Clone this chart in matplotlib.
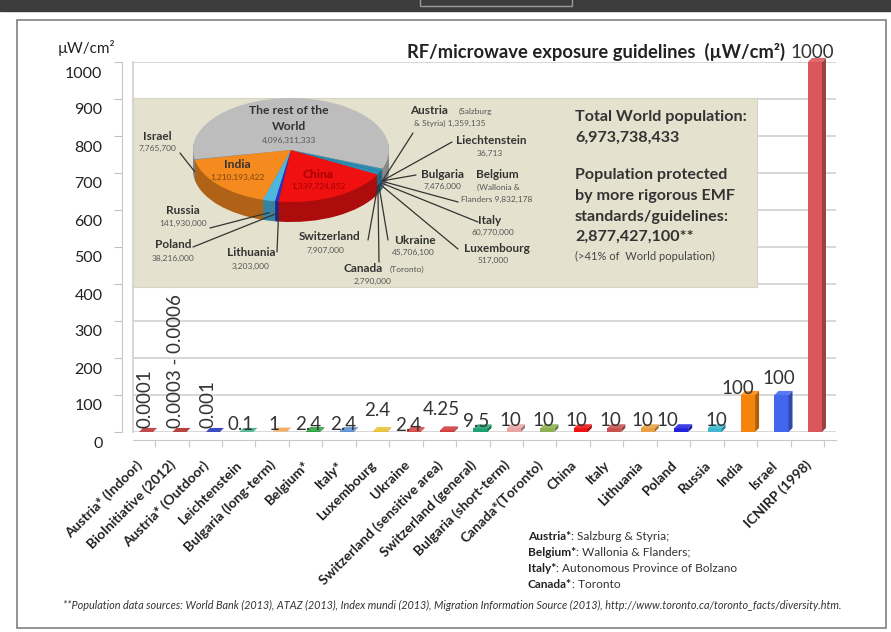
import matplotlib
matplotlib.use("Agg")
import matplotlib.pyplot as plt
import matplotlib.colors as mcolors
from matplotlib.patches import Rectangle
from matplotlib.transforms import ScaledTranslation
import numpy as np

plt.rcParams['font.family'] = ['Lato', 'DejaVu Sans']

# ---- bar chart data ----
categories = ["Austria* (Indoor)", "BioInitiative (2012)", "Austria* (Outdoor)", "Leichtenstein",
              "Bulgaria (long-term)", "Belgium*", "Italy*", "Luxembourg", "Ukraine",
              "Switzerland (sensitive area)", "Switzerland (general)", "Bulgaria (short-term)",
              "Canada*(Toronto)", "China", "Italy", "Lithuania", "Poland", "Russia", "India",
              "Israel", "ICNIRP (1998)"]
values = [0.0001, 0.0006, 0.001, 0.1, 1, 2.4, 2.4, 2.4, 2.4, 4.25, 9.5,
          10, 10, 10, 10, 10, 10, 10, 100, 100, 1000]
value_labels = ["0.0001", "0.0003 - 0.0006", "0.001", "0.1", "1", "2.4", "2.4", "2.4", "2.4",
                "4.25", "9.5", "10", "10", "10", "10", "10", "10", "10", "100", "100", "1000"]
bar_colors = ["#b83232", "#b02828", "#2233bb", "#3cb08a", "#f0a456", "#2e9e3e", "#5b8fd6",
              "#e8c030", "#d84444", "#d03a3a", "#1fa070", "#e8a4a4", "#8fb050", "#ee1111",
              "#c85050", "#e8a040", "#2222dd", "#40b8d0", "#f5840c", "#4466ee", "#d9575a"]

# ---- pie (population) data ----
pie_names = ["The rest of the World", "Israel", "India", "Russia", "Poland", "Lithuania", "China",
             "Switzerland", "Canada", "Ukraine", "Luxembourg", "Italy", "Belgium", "Bulgaria",
             "Liechtenstein", "Austria"]
pie_pops = [4096311333, 7765700, 1210193422, 141930000, 38216000, 3203000, 1339724852,
            7907000, 2790000, 45706100, 517000, 60770000, 9832178, 7476000, 36713, 1359135]
pie_colors = ["#bdbdbd", "#3aa0c8", "#f58a1f", "#4db6dc", "#3030c0", "#8040a0", "#f01010",
              "#40a8c8", "#40a8c8", "#3090b8", "#40a8c8", "#2a8ab0", "#40a8c8", "#3090b8",
              "#40a8c8", "#40a8c8"]

# layout tweaks for value labels (pixels)
label_lift = [4, 4, 4, 7, 7, 7, 7, 21, 6, 21, 7, 8, 8, 8, 8, 8, 8, 8, 7, 17, 10]
label_dx = [-1, -4, -5, -6, -6, -5, -4, -3, -5, -6, -4, -4, -4, -4, -4, -5, -14, 2, -10, -3, -3]

W, H = 891, 632
fig = plt.figure(figsize=(W / 100, H / 100), dpi=100)
PT = 0.72  # px -> points


def px_axes(x0, y0, x1, y1):
    return fig.add_axes([x0 / W, 1 - y1 / H, (x1 - x0) / W, (y1 - y0) / H])


def shade(c, f):
    r, g, b = mcolors.to_rgb(c)
    if f < 1:
        return (r * f, g * f, b * f)
    return tuple(v + (1 - v) * (f - 1) for v in (r, g, b))


# background / frame
bg = px_axes(0, 0, W, H)
bg.set_xlim(0, W)
bg.set_ylim(H, 0)
bg.axis('off')
bg.add_patch(Rectangle((0, 0), W, 11, color='#3c3c3c'))
bg.add_patch(Rectangle((420, -2), 152, 8, fc='none', ec='#9a9a9a', lw=1))
bg.add_patch(Rectangle((17, 20), 869, 608, fc='white', ec='#808080', lw=1.2))

bg.text(86, 48, "µW/cm²", ha='center', va='center', fontsize=11, color='#222222')
bg.text(785, 52, "RF/microwave exposure guidelines  (µW/cm²)", ha='right', va='center',
        fontsize=13.2, fontweight='bold', color='#222222')

# ---- main bar chart ----
ax = px_axes(133, 62, 836, 432)
x = np.arange(len(categories))
xlo, xhi = -0.39, 20.63
ax.set_xlim(xlo, xhi)
ax.set_ylim(0, 1000)
ax.set_facecolor('none')
ax.set_yticks(np.arange(0, 1001, 100))
ax.yaxis.grid(True, color='#d4d4d4', lw=1.3)
ax.set_axisbelow(True)
for s in ['top', 'right']:
    ax.spines[s].set_visible(False)
ax.spines['left'].set_position(('outward', 8))
ax.spines['bottom'].set_position(('outward', 6))
ax.spines['left'].set_color('#c8c8c8')
ax.spines['bottom'].set_color('#c8c8c8')
ax.axvline(xlo, color='#d4d4d4', lw=1.3, clip_on=False)
ax.tick_params(axis='y', length=6, color='#c0c0c0', labelsize=11.5, labelcolor='#222222', pad=8)
ax.set_xticks(x + 0.27)
ax.tick_params(axis='x', length=5, color='#c8c8c8', labelbottom=False)
for lab in ax.get_yticklabels():
    lab.set_transform(lab.get_transform() + ScaledTranslation(0, -0.10, fig.dpi_scale_trans))

bw, ddx, ddy = 0.42, 0.12, 11
ax.bar(x, values, width=bw, color=bar_colors, zorder=3, linewidth=0, clip_on=False)
for xi, v, c in zip(x, values, bar_colors):
    ax.fill([xi + bw / 2, xi + bw / 2 + ddx, xi + bw / 2 + ddx, xi + bw / 2],
            [0, ddy, v + ddy, v], color=shade(c, 0.72), zorder=3, lw=0, clip_on=False)
    ax.fill([xi - bw / 2, xi + bw / 2, xi + bw / 2 + ddx, xi - bw / 2 + ddx],
            [v, v, v + ddy, v + ddy], color=shade(c, 1.12), zorder=3, lw=0, clip_on=False)

for xi, v, lab, lift, dxp in zip(x, values, value_labels, label_lift, label_dx):
    if lab.startswith("0.00"):
        ax.annotate(lab, xy=(xi, v), xytext=(dxp * PT, lift * PT), textcoords='offset points',
                    rotation=90, ha='center', va='bottom', fontsize=13.5, color='#333333',
                    annotation_clip=False)
    else:
        ax.annotate(lab, xy=(xi, v), xytext=(dxp * PT, lift * PT), textcoords='offset points',
                    ha='center', va='center', fontsize=13.5, color='#333333',
                    annotation_clip=False)

for xi, cat in zip(x, categories):
    ax.annotate(cat, xy=(xi, 0), xytext=(-6 * PT, -31 * PT), textcoords='offset points',
                rotation=45, rotation_mode='anchor', ha='right', va='center',
                fontsize=10, fontweight='bold', color='#222222', annotation_clip=False)

# ---- inset with population pie ----
ins = px_axes(133, 98, 757, 287)
ins.set_xlim(133, 757)
ins.set_ylim(287, 98)
ins.set_facecolor('#e4e2ce')
ins.set_xticks([])
ins.set_yticks([])
for s in ins.spines.values():
    s.set_color('#d6d4c2')

pa = px_axes(193, 98, 389, 222)
pa.set_facecolor('none')
depth = 20 / 52
start = -21
side_colors = [shade(c, 0.72) for c in pie_colors]
nl = 24
for k in range(nl, 0, -1):
    pa.pie(pie_pops, colors=side_colors, startangle=start, counterclock=True,
           center=(0, -depth * k / nl), radius=1, wedgeprops=dict(linewidth=0))
pa.pie(pie_pops, colors=pie_colors, startangle=start, counterclock=True,
       center=(0, 0), radius=1, wedgeprops=dict(linewidth=0))
pa.set_xlim(-1, 1)
pa.set_ylim(-1 - depth, 1)
pa.set_aspect('auto')
pa.axis('off')

fracs = np.array(pie_pops) / sum(pie_pops)
mids = start + 360 * (np.cumsum(fracs) - fracs / 2)

# leader-line end points (inset pixel coords)
leader_end = {"Israel": (180, 153), "Russia": (210, 228), "Poland": (193, 247),
              "Lithuania": (277, 252), "Switzerland": (368, 240), "Canada": (379, 262),
              "Ukraine": (388, 240), "Luxembourg": (458, 249), "Italy": (478, 222),
              "Belgium": (458, 202), "Bulgaria": (416, 175), "Liechtenstein": (452, 142),
              "Austria": (413, 133)}
for name, m in zip(pie_names, mids):
    if name not in leader_end:
        continue
    t = np.radians(m)
    axx, ayy = np.cos(t), np.sin(t)
    if ayy < 0:
        ayy -= depth * 0.6
    pa.annotate('', xy=(axx, ayy), xytext=leader_end[name], textcoords=ins.transData,
                arrowprops=dict(arrowstyle='-', color='#333333', lw=0.9, shrinkA=0, shrinkB=0),
                annotation_clip=False)

# pie texts: (text, x, y, kind)
pie_texts = [("The rest of the", 289, 111, 'big'), ("World", 289, 127, 'big'),
             ("4,096,311,333", 289, 140, 'num'),
             ("India", 237, 165, 'big'), ("1,210,193,422", 237, 177, 'india'),
             ("China", 318, 174, 'china'), ("1,339,724,852", 318, 186, 'chinanum'),
             ("Israel", 157, 137, 'name'), ("7,765,700", 157, 148, 'num'),
             ("Russia", 183, 211, 'name'), ("141,930,000", 183, 223, 'num'),
             ("Poland", 173, 245, 'name'), ("38,216,000", 173, 258, 'num'),
             ("Lithuania", 251, 253, 'name'), ("3,203,000", 251, 266, 'num'),
             ("Switzerland", 330, 237, 'name'), ("7,907,000", 325, 250, 'num'),
             ("Canada", 363, 268, 'name'), ("(Toronto)", 407, 269, 'num'),
             ("2,790,000", 373, 281, 'num'),
             ("Ukraine", 415, 240, 'name'), ("45,706,100", 413, 252, 'num'),
             ("Luxembourg", 497, 248, 'name'), ("517,000", 493, 260, 'num'),
             ("Italy", 490, 220, 'name'), ("60,770,000", 493, 232, 'num'),
             ("Belgium", 497, 175, 'name'), ("(Wallonia &", 498, 187, 'num'),
             ("Flanders 9,832,178", 497, 199, 'num'),
             ("Bulgaria", 442, 174, 'name'), ("7,476,000", 442, 186, 'num'),
             ("Liechtenstein", 491, 140, 'name'), ("36,713", 490, 153, 'num'),
             ("Austria", 429, 110, 'name'), ("(Salzburg", 475, 111, 'num'),
             ("& Styria) 1,359,135", 450, 123, 'num')]
styles = {'big': dict(fontsize=8.7, fontweight='bold', color='#333333'),
          'name': dict(fontsize=8.5, fontweight='bold', color='#333333'),
          'num': dict(fontsize=6, color='#555555'),
          'india': dict(fontsize=6, color='#7a4510'),
          'china': dict(fontsize=8.7, fontweight='bold', color='#a80000'),
          'chinanum': dict(fontsize=6, color='#a00000')}
for s, tx, ty, kind in pie_texts:
    pa.text(tx, ty, s, transform=ins.transData, ha='center', va='center', clip_on=False,
            **styles[kind])

right_lines = [("Total World population:", 117), ("6,973,738,433", 138),
               ("Population protected", 175), ("by more rigorous EMF", 196),
               ("standards/guidelines:", 217), ("2,877,427,100**", 237)]
for s, ty in right_lines:
    ins.text(575, ty, s, ha='left', va='center', fontsize=11.6, fontweight='bold',
             color='#333333')
ins.text(575, 256, "(>41% of  World population)", ha='left', va='center', fontsize=8,
         color='#444444')

# ---- notes ----
notes = [("Austria*", ": Salzburg & Styria;"), ("Belgium*", ": Wallonia & Flanders;"),
         ("Italy*", ": Autonomous Province of Bolzano"), ("Canada*", ": Toronto")]
for k, (b, r) in enumerate(notes):
    t = bg.text(528, 536 + 16 * k, b, ha='left', va='center', fontsize=8.6, fontweight='bold',
                color='#222222')
    bg.annotate(r, xy=(1, 0.5), xycoords=t, ha='left', va='center', fontsize=8.6,
                color='#333333')

bg.text(452, 605, "**Population data sources: World Bank (2013), ATAZ (2013), Index mundi (2013), "
        "Migration Information Source (2013), http://www.toronto.ca/toronto_facts/diversity.htm.",
        ha='center', va='center', fontsize=7.8, fontstyle='italic', color='#333333')

fig.savefig("out.png", dpi=100)
